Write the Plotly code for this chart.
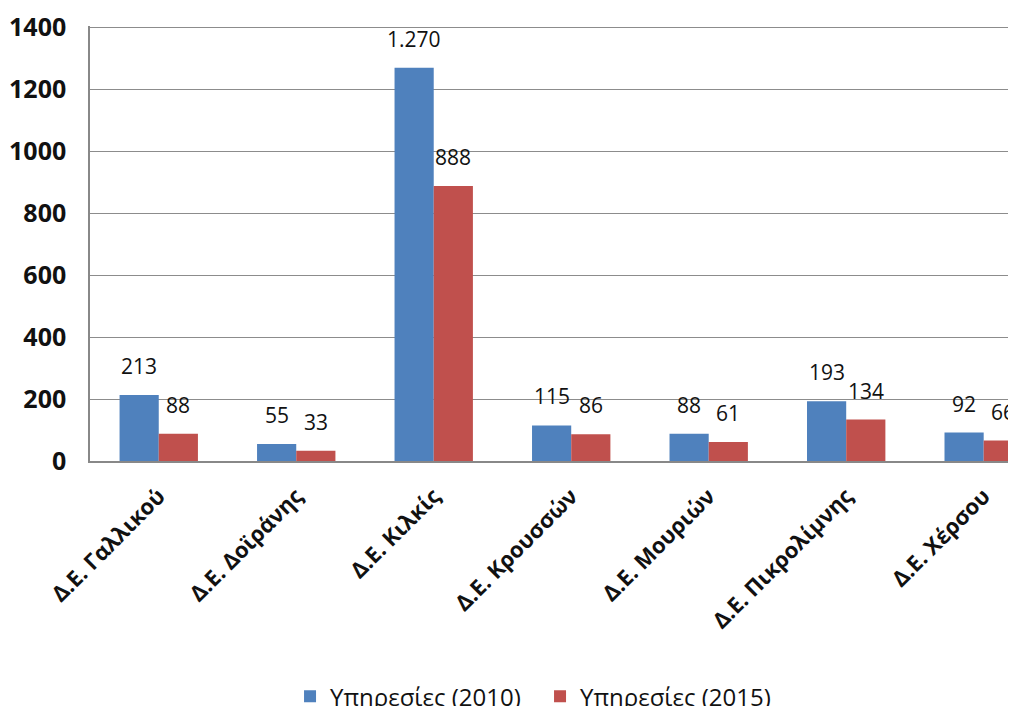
import plotly.graph_objects as go

categories = ["Δ.Ε. Γαλλικού", "Δ.Ε. Δοϊράνης", "Δ.Ε. Κιλκίς", "Δ.Ε. Κρουσσών",
              "Δ.Ε. Μουριών", "Δ.Ε. Πικρολίμνης", "Δ.Ε. Χέρσου"]
series_names = ["Υπηρεσίες (2010)", "Υπηρεσίες (2015)"]
values_2010 = [213, 55, 1270, 115, 88, 193, 92]
values_2015 = [88, 33, 888, 86, 61, 134, 66]
y_ticks = [0, 200, 400, 600, 800, 1000, 1200, 1400]

colors = ["#4F81BD", "#C0504D"]
FONT = "Open Sans"

fig = go.Figure()
for name, vals, col in zip(series_names, [values_2010, values_2015], colors):
    fig.add_trace(go.Bar(x=categories, y=vals, name=name, marker_color=col,
                         marker_line_width=0))

def fmt(v):
    return f"{v:,}".replace(",", ".")

annotations = []
for vals, shift in [(values_2010, -19.5), (values_2015, 19.5)]:
    for c, v in zip(categories, vals):
        annotations.append(dict(x=c, y=v, xref="x", yref="y", text=fmt(v),
                                showarrow=False, xshift=shift, yshift=13,
                                yanchor="bottom",
                                font=dict(family=FONT, size=21, color="#111",
                                          weight=500)))

fig.update_layout(
    width=1008, height=698,
    margin=dict(l=82, r=0, t=18, b=245, autoexpand=False),
    paper_bgcolor="white", plot_bgcolor="white",
    barmode="group", bargap=0.43, bargroupgap=0,
    annotations=annotations,
    legend=dict(orientation="h", x=0.486, xanchor="center", y=-0.49, yanchor="top",
                font=dict(family=FONT, size=24, color="#111"),
                itemsizing="constant", entrywidth=205, entrywidthmode="pixels"),
    xaxis=dict(range=[-0.5, 6.235], tickangle=-45, showline=True, linecolor="#888",
               linewidth=1.5, ticks="", showgrid=False, automargin=False,
               ticklabelstandoff=12,
               tickfont=dict(family=FONT, size=22, color="#111", weight="bold")),
    yaxis=dict(range=[0, 1405], tickvals=y_ticks, tickformat="d", showgrid=True,
               gridcolor="#8c8c8c", gridwidth=1.2, showline=True, linecolor="#888",
               linewidth=1.5, zeroline=False, ticks="", automargin=False,
               ticklabelstandoff=17,
               tickfont=dict(family=FONT, size=25, color="#111", weight="bold")),
)
fig.write_html("out.html")
